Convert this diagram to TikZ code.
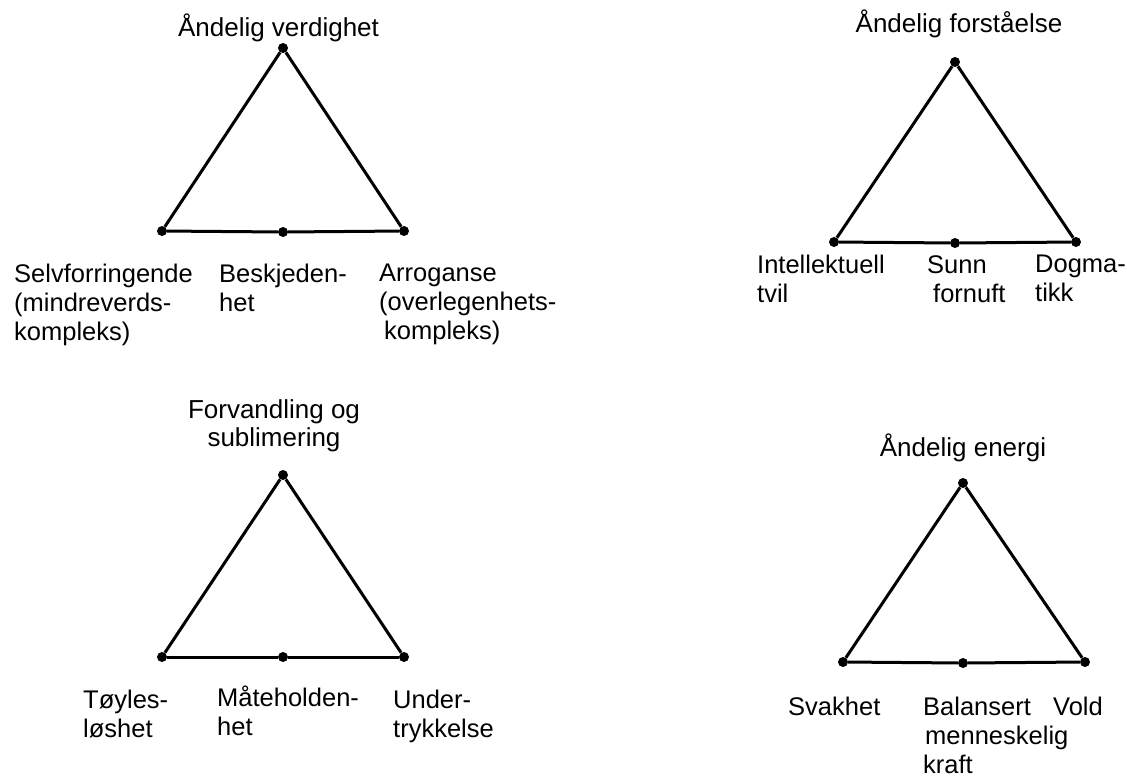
\documentclass[tikz,border=0pt]{standalone}
\usepackage{fontspec}
\setmainfont{Liberation Sans}
\begin{document}
\begin{tikzpicture}[x=1pt,y=-1pt,line join=bevel,
  dot/.style={circle,fill=black,inner sep=0pt,minimum size=10pt},
  lbl/.style={font=\fontsize{25.5}{29}\selectfont,inner sep=0pt,align=left,anchor=north west},
  ttl/.style={font=\fontsize{26}{28}\selectfont,inner sep=0pt,align=center,anchor=base},
  side/.style={black,line width=3pt}]
\useasboundingbox (0,0) rectangle (1127,780);
%%
\node (t1_top) at (283,48) [dot] {};
  \node (t1_left) at (162,231) [dot] {};
  \node (t1_mid) at (283,232) [dot] {};
  \node (t1_right) at (404,231) [dot] {};
  \node (t2_top) at (955,62) [dot] {};
  \node (t2_left) at (834,242) [dot] {};
  \node (t2_mid) at (955,243) [dot] {};
  \node (t2_right) at (1076,242) [dot] {};
  \node (t3_top) at (283,475) [dot] {};
  \node (t3_left) at (162,657) [dot] {};
  \node (t3_mid) at (283,657) [dot] {};
  \node (t3_right) at (404,657) [dot] {};
  \node (t4_top) at (963,483) [dot] {};
  \node (t4_left) at (843,662) [dot] {};
  \node (t4_mid) at (963,663) [dot] {};
  \node (t4_right) at (1085,662) [dot] {};
%
  \node (t1_title) at (278.5,36) [ttl] {Åndelig verdighet};
  \node (t1_lbl_l) at (14,264) [lbl] {Selvforringende\\(mindreverds-\\kompleks)};
  \node (t1_lbl_m) at (219,264) [lbl] {Beskjeden-\\het};
  \node (t1_lbl_r) at (379,264) [lbl] {Arroganse\\(overlegenhets-\\\hspace{5pt}kompleks)};
  \node (t2_title) at (959,32) [ttl] {Åndelig forståelse};
  \node (t2_lbl_l) at (757,255) [lbl] {Intellektuell\\tvil};
  \node (t2_lbl_m) at (927,255) [lbl] {Sunn\\\hspace{6pt}fornuft};
  \node (t2_lbl_r) at (1035,255) [lbl] {Dogma-\\tikk};
  \node (t3_title) at (274,399) [ttl,anchor=north] {Forvandling og\\sublimering};
  \node (t3_lbl_l) at (83,690) [lbl] {Tøyles-\\løshet};
  \node (t3_lbl_m) at (217,686) [lbl] {Måteholden-\\het};
  \node (t3_lbl_r) at (393,690) [lbl] {Under-\\trykkelse};
  \node (t4_title) at (963,456) [ttl] {Åndelig energi};
  \node (t4_lbl_l) at (788,697) [lbl] {Svakhet};
  \node (t4_lbl_m) at (923,697) [lbl] {Balansert\\\hspace{2pt}menneskelig\\kraft};
  \node (t4_lbl_r) at (1053,697) [lbl] {Vold};
%
  \draw [side] (t1_top) -- (t1_left);
  \draw [side] (t1_left) -- (t1_mid);
  \draw [side] (t1_mid) -- (t1_right);
  \draw [side] (t1_right) -- (t1_top);
  \draw [side] (t2_top) -- (t2_left);
  \draw [side] (t2_left) -- (t2_mid);
  \draw [side] (t2_mid) -- (t2_right);
  \draw [side] (t2_right) -- (t2_top);
  \draw [side] (t3_top) -- (t3_left);
  \draw [side] (t3_left) -- (t3_mid);
  \draw [side] (t3_mid) -- (t3_right);
  \draw [side] (t3_right) -- (t3_top);
  \draw [side] (t4_top) -- (t4_left);
  \draw [side] (t4_left) -- (t4_mid);
  \draw [side] (t4_mid) -- (t4_right);
  \draw [side] (t4_right) -- (t4_top);
%
\end{tikzpicture}
\end{document}
